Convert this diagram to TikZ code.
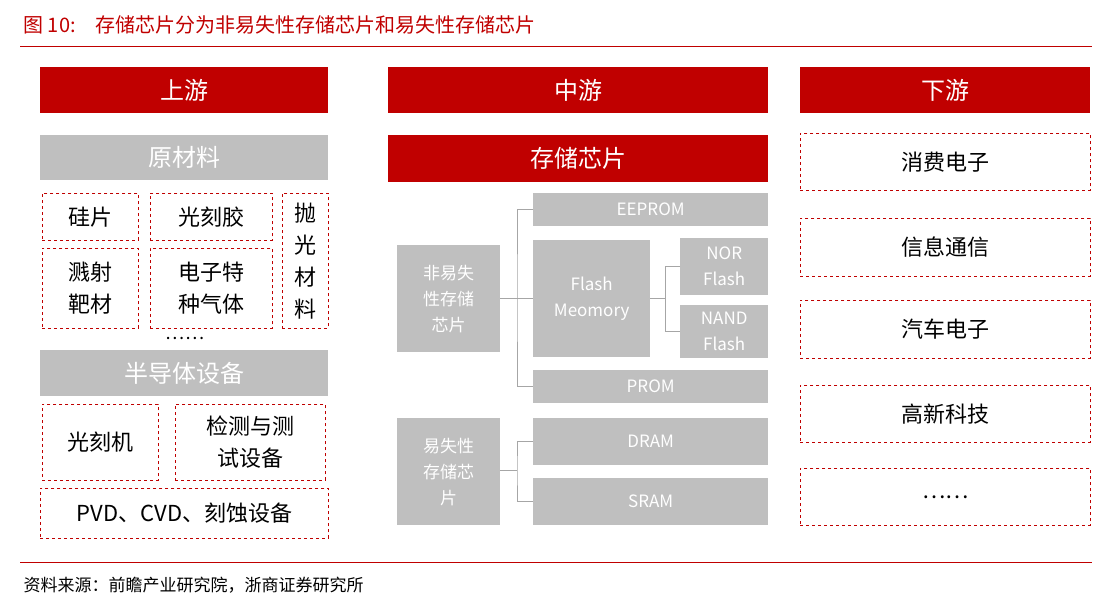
\documentclass[tikz,border=0pt]{standalone}
\usepackage{fontspec}
\setmainfont{Noto Sans CJK SC}
\usepackage{tikz}
\definecolor{hred}{HTML}{C00000}
\definecolor{hgray}{HTML}{BFBFBF}
\definecolor{lgray}{HTML}{A6A6A6}
\tikzset{
  head/.style={fill=hred, text=white, inner sep=0pt, anchor=north west, font=\fontsize{24}{28}\selectfont},
  gbox/.style={fill=hgray, text=white, inner sep=0pt, anchor=north west, align=center, font=\fontsize{24}{28}\selectfont},
  sbox/.style={fill=hgray, text=white, inner sep=0pt, anchor=north west, align=center, font=\fontsize{17}{26}\selectfont},
  dbox/.style={draw=hred, dashed, thick, inner sep=0pt, anchor=north west, align=center, font=\fontsize{22}{32}\selectfont},
  link/.style={draw=lgray, line width=1pt}
}
\begin{document}
\begin{tikzpicture}[x=1pt,y=-1pt]
\useasboundingbox (0,0) rectangle (1107,603);
% title and rules
\node[anchor=west, text=hred, font=\fontsize{20}{24}\selectfont] (title) at (20,25) {图 10:\quad 存储芯片分为非易失性存储芯片和易失性存储芯片};
\draw[hred, line width=1pt] (20,46) -- (1092,46);
\draw[hred, line width=1pt] (20,562) -- (1092,562);
\node[anchor=west, font=\fontsize{17}{20}\selectfont] (src) at (20,585) {资料来源：前瞻产业研究院，浙商证券研究所};
% heads
\node[head, minimum width=288, minimum height=46] (up) at (40,67) {上游};
\node[head, minimum width=380, minimum height=46] (mid) at (388,67) {中游};
\node[head, minimum width=290, minimum height=46] (down) at (800,67) {下游};
% upstream
\node[gbox, minimum width=288, minimum height=45] (raw) at (40,135) {原材料};
\node[dbox, minimum width=96, minimum height=47] (si) at (42,193) {硅片};
\node[dbox, minimum width=122, minimum height=47] (resist) at (150,193) {光刻胶};
\node[dbox, minimum width=46, minimum height=135] (polish) at (282,193) {抛\\光\\材\\料};
\node[dbox, minimum width=96, minimum height=80] (target) at (42,248) {溅射\\靶材};
\node[dbox, minimum width=122, minimum height=80] (gas) at (150,248) {电子特\\种气体};
\node[font=\fontsize{18}{20}\selectfont] (dots1) at (185,338) {……};
\node[gbox, minimum width=288, minimum height=46] (equip) at (40,350) {半导体设备};
\node[dbox, minimum width=116, minimum height=76] (litho) at (42,404) {光刻机};
\node[dbox, minimum width=150, minimum height=76] (test) at (175,404) {检测与测\\试设备};
\node[dbox, minimum width=288, minimum height=50] (pvd) at (40,488) {PVD、CVD、刻蚀设备};
% midstream
\node[head, minimum width=380, minimum height=47] (chip) at (388,135) {存储芯片};
\node[sbox, minimum width=103, minimum height=107] (nv) at (397,245) {非易失\\性存储\\芯片};
\node[sbox, minimum width=235, minimum height=33] (eeprom) at (533,193) {EEPROM};
\node[sbox, minimum width=117, minimum height=117] (flash) at (533,240) {Flash\\Meomory};
\node[sbox, minimum width=88, minimum height=57] (nor) at (680,238) {NOR\\Flash};
\node[sbox, minimum width=88, minimum height=53] (nand) at (680,305) {NAND\\Flash};
\node[sbox, minimum width=235, minimum height=33] (prom) at (533,370) {PROM};
\node[sbox, minimum width=103, minimum height=107] (vol) at (397,418) {易失性\\存储芯\\片};
\node[sbox, minimum width=235, minimum height=47] (dram) at (533,418) {DRAM};
\node[sbox, minimum width=235, minimum height=47] (sram) at (533,478) {SRAM};
% connectors
\coordinate (j1) at (517,298);
\coordinate (j2) at (665,298);
\coordinate (j3) at (517,470);
\draw[link] (nv.east |- j1) -- (j1);
\draw[link] (eeprom.west) -| (j1) |- (prom.west);
\draw[link] (j1) -- (flash.west |- j1);
\draw[link] (flash.east |- j2) -- (j2);
\draw[link] (nor.west) -| (j2) |- (nand.west);
\draw[link] (vol.east |- j3) -- (j3);
\draw[link] (dram.west) -| (j3) |- (sram.west);
% downstream
\node[dbox, minimum width=290, minimum height=57] (consumer) at (800,133) {消费电子};
\node[dbox, minimum width=290, minimum height=58] (telecom) at (800,218) {信息通信};
\node[dbox, minimum width=290, minimum height=58] (auto) at (800,300) {汽车电子};
\node[dbox, minimum width=290, minimum height=57] (hitech) at (800,385) {高新科技};
\node[dbox, minimum width=290, minimum height=57] (more) at (800,468) {……};
\end{tikzpicture}
\end{document}
